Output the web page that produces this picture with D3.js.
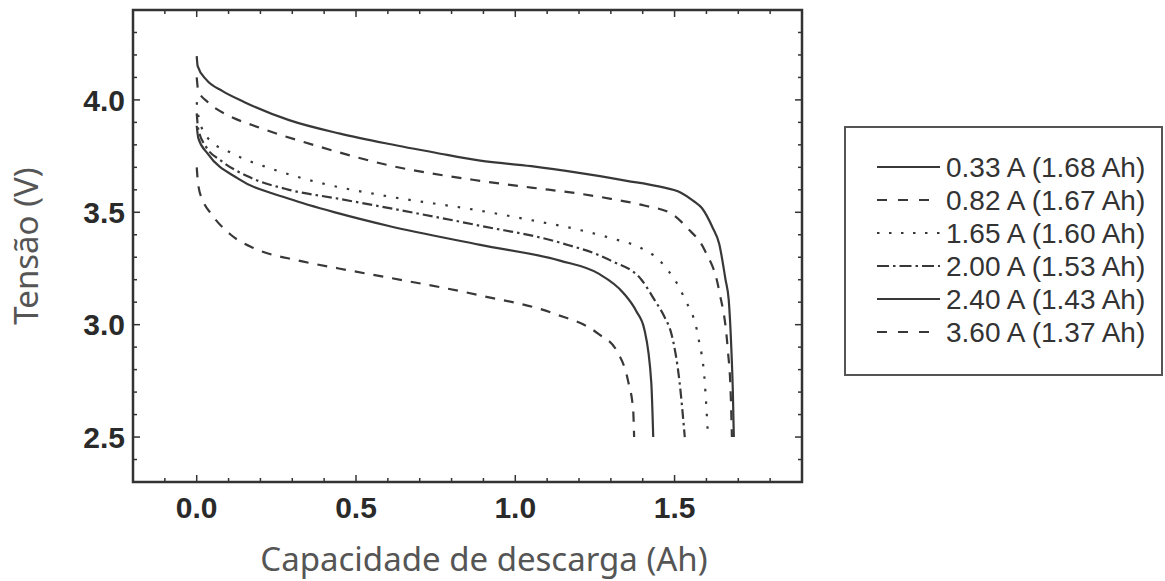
<!DOCTYPE html>
<html lang="pt">
<head>
<meta charset="utf-8">
<title>Curvas de descarga</title>
<script src="https://cdn.jsdelivr.net/npm/d3@7"></script>
<style>
  body { margin: 0; background: #fff; }
</style>
</head>
<body>
<script>
// series: [capacity (Ah), voltage (V)]
var s033 = [[0,4.195],[0.003,4.15],[0.03,4.09],[0.08,4.04],[0.15,3.99],[0.29,3.91],[0.45,3.85],[0.6,3.805],[0.75,3.765],[0.89,3.73],[1.05,3.705],[1.2,3.675],[1.35,3.64],[1.45,3.615],[1.52,3.587],[1.56,3.55],[1.585,3.52],[1.62,3.43],[1.64,3.36],[1.66,3.2],[1.67,3.11],[1.678,2.9],[1.683,2.7],[1.686,2.5]];
var s082 = [[0,4.10],[0.005,4.04],[0.035,3.99],[0.1,3.93],[0.18,3.885],[0.39,3.79],[0.6,3.71],[0.89,3.64],[1.05,3.61],[1.2,3.583],[1.3,3.56],[1.405,3.53],[1.49,3.494],[1.54,3.43],[1.595,3.33],[1.64,3.15],[1.667,2.89],[1.676,2.7],[1.68,2.5]];
var s165 = [[0,3.99],[0.005,3.93],[0.035,3.83],[0.107,3.765],[0.234,3.694],[0.39,3.63],[0.58,3.576],[0.89,3.507],[1.05,3.465],[1.206,3.42],[1.3,3.385],[1.396,3.34],[1.45,3.29],[1.48,3.24],[1.513,3.17],[1.53,3.12],[1.575,2.94],[1.595,2.74],[1.605,2.5]];
var s200 = [[0,3.94],[0.005,3.87],[0.03,3.79],[0.076,3.73],[0.16,3.66],[0.29,3.60],[0.446,3.56],[0.58,3.525],[0.89,3.44],[1.14,3.365],[1.30,3.285],[1.396,3.2],[1.437,3.11],[1.47,3.03],[1.49,2.96],[1.516,2.74],[1.532,2.5]];
var s240 = [[0,3.885],[0.005,3.83],[0.035,3.76],[0.13,3.65],[0.29,3.56],[0.446,3.495],[0.6,3.44],[0.89,3.355],[1.14,3.285],[1.26,3.228],[1.34,3.14],[1.38,3.06],[1.405,2.98],[1.427,2.74],[1.433,2.5]];
var s360 = [[0,3.70],[0.005,3.62],[0.02,3.55],[0.045,3.494],[0.107,3.40],[0.18,3.34],[0.32,3.285],[0.446,3.25],[0.6,3.21],[0.89,3.13],[1.12,3.05],[1.26,2.96],[1.32,2.88],[1.354,2.75],[1.37,2.62],[1.373,2.5]];

var seriesLabels = ["0.33 A (1.68 Ah)", "0.82 A (1.67 Ah)", "1.65 A (1.60 Ah)", "2.00 A (1.53 Ah)", "2.40 A (1.43 Ah)", "3.60 A (1.37 Ah)"];
var xTicks = [0.0, 0.5, 1.0, 1.5];
var yTicks = [2.5, 3.0, 3.5, 4.0];

var allSeries = [s033, s082, s165, s200, s240, s360];
var dashes = [null, "10,9", "2.5,10", "10,4,2.5,4", null, "10,9"];

var width = 1165, height = 581;
var margin = {left: 133, top: 10, right: 363, bottom: 99};
var w = width - margin.left - margin.right;
var h = height - margin.top - margin.bottom;

var svg = d3.select("body").append("svg")
  .attr("width", width)
  .attr("height", height);

var x = d3.scaleLinear().domain([-0.2, 1.9]).range([margin.left, margin.left + w]);
var y = d3.scaleLinear().domain([2.3, 4.4]).range([margin.top + h, margin.top]);

var minor = d3.range(-2, 19).map(function(d) { return d / 10; });
var minorY = d3.range(24, 44).map(function(d) { return d / 10; });

// ticks pointing inward, all four sides
var g = svg.append("g").attr("stroke", "#333").attr("stroke-width", 1.5);
minor.forEach(function(v) {
  var major = xTicks.some(function(t) { return Math.abs(t - v) < 1e-6; });
  var len = major ? 7 : 4;
  g.append("line").attr("x1", x(v)).attr("x2", x(v)).attr("y1", margin.top + h).attr("y2", margin.top + h - len);
  g.append("line").attr("x1", x(v)).attr("x2", x(v)).attr("y1", margin.top).attr("y2", margin.top + len);
});
minorY.forEach(function(v) {
  var major = yTicks.some(function(t) { return Math.abs(t - v) < 1e-6; });
  var len = major ? 7 : 4;
  g.append("line").attr("y1", y(v)).attr("y2", y(v)).attr("x1", margin.left).attr("x2", margin.left + len);
  g.append("line").attr("y1", y(v)).attr("y2", y(v)).attr("x1", margin.left + w).attr("x2", margin.left + w - len);
});

// tick labels
svg.selectAll(".xl").data(xTicks).enter().append("text")
  .attr("x", function(d) { return x(d); })
  .attr("y", 518)
  .attr("text-anchor", "middle")
  .attr("font-family", "Liberation Sans, Arial, sans-serif")
  .attr("font-weight", "bold")
  .attr("font-size", 30)
  .attr("fill", "#2a2a2a")
  .text(function(d) { return d.toFixed(1); });

svg.selectAll(".yl").data(yTicks).enter().append("text")
  .attr("x", margin.left - 8)
  .attr("y", function(d) { return y(d); })
  .attr("dy", "0.36em")
  .attr("text-anchor", "end")
  .attr("font-family", "Liberation Sans, Arial, sans-serif")
  .attr("font-weight", "bold")
  .attr("font-size", 30)
  .attr("fill", "#2a2a2a")
  .text(function(d) { return d.toFixed(1); });

// axis titles
svg.append("text")
  .attr("x", 484)
  .attr("y", 571)
  .attr("text-anchor", "middle")
  .attr("font-family", "Noto Sans, sans-serif")
  .attr("font-size", 33)
  .attr("fill", "#555")
  .text("Capacidade de descarga (Ah)");

svg.append("text")
  .attr("transform", "translate(38," + (margin.top + h / 2) + ") rotate(-90)")
  .attr("text-anchor", "middle")
  .attr("font-family", "Noto Sans, sans-serif")
  .attr("font-size", 33)
  .attr("fill", "#555")
  .text("Tensão (V)");

// curves
var line = d3.line()
  .x(function(d) { return x(d[0]); })
  .y(function(d) { return y(d[1]); })
  .curve(d3.curveMonotoneX);

svg.selectAll(".curve").data(allSeries).enter().append("path")
  .attr("d", line)
  .attr("fill", "none")
  .attr("stroke", "#383838")
  .attr("stroke-width", 2.2)
  .attr("stroke-dasharray", function(d, i) { return dashes[i]; });

// frame
svg.append("rect")
  .attr("x", margin.left).attr("y", margin.top)
  .attr("width", w).attr("height", h)
  .attr("fill", "none")
  .attr("stroke", "#333")
  .attr("stroke-width", 2.5);

// legend
var lg = svg.append("g");
lg.append("rect")
  .attr("x", 845).attr("y", 127)
  .attr("width", 317).attr("height", 248)
  .attr("fill", "#fff")
  .attr("stroke", "#555")
  .attr("stroke-width", 2);

var legendDashes = [null, "10,11", "2.5,9.5", "12,4,2.5,4", null, "10,11"];
seriesLabels.forEach(function(lab, i) {
  var yy = 167 + i * 33;
  lg.append("line")
    .attr("x1", 877).attr("x2", 940)
    .attr("y1", yy).attr("y2", yy)
    .attr("stroke", "#383838")
    .attr("stroke-width", 2.2)
    .attr("stroke-dasharray", legendDashes[i]);
  lg.append("text")
    .attr("x", 946).attr("y", yy)
    .attr("dy", "0.36em")
    .attr("font-family", "Liberation Sans, Arial, sans-serif")
    .attr("font-size", 28)
    .attr("fill", "#333")
    .text(lab);
});
</script>
</body>
</html>
